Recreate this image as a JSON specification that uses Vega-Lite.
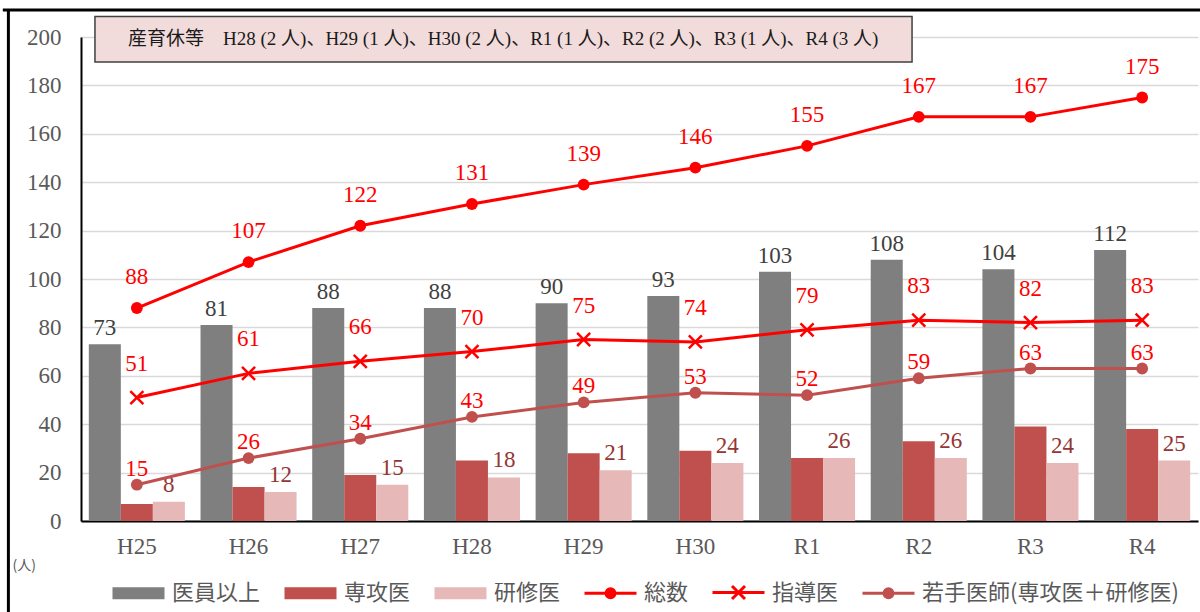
{
  "$schema": "https://vega.github.io/schema/vega-lite/v6.json",
  "width": 1117,
  "height": 484,
  "autosize": {"type": "none"},
  "padding": {"left": 81, "top": 37, "right": 2, "bottom": 91},
  "background": "#ffffff",
  "config": {
    "view": {"stroke": null},
    "font": "Liberation Serif, DejaVu Serif, serif"
  },
  "data": {"values": [
      {"year": "H25", "series": "医員以上", "value": 73},
      {"year": "H26", "series": "医員以上", "value": 81},
      {"year": "H27", "series": "医員以上", "value": 88},
      {"year": "H28", "series": "医員以上", "value": 88},
      {"year": "H29", "series": "医員以上", "value": 90},
      {"year": "H30", "series": "医員以上", "value": 93},
      {"year": "R1", "series": "医員以上", "value": 103},
      {"year": "R2", "series": "医員以上", "value": 108},
      {"year": "R3", "series": "医員以上", "value": 104},
      {"year": "R4", "series": "医員以上", "value": 112},
      {"year": "H25", "series": "専攻医", "value": 7},
      {"year": "H26", "series": "専攻医", "value": 14},
      {"year": "H27", "series": "専攻医", "value": 19},
      {"year": "H28", "series": "専攻医", "value": 25},
      {"year": "H29", "series": "専攻医", "value": 28},
      {"year": "H30", "series": "専攻医", "value": 29},
      {"year": "R1", "series": "専攻医", "value": 26},
      {"year": "R2", "series": "専攻医", "value": 33},
      {"year": "R3", "series": "専攻医", "value": 39},
      {"year": "R4", "series": "専攻医", "value": 38},
      {"year": "H25", "series": "研修医", "value": 8},
      {"year": "H26", "series": "研修医", "value": 12},
      {"year": "H27", "series": "研修医", "value": 15},
      {"year": "H28", "series": "研修医", "value": 18},
      {"year": "H29", "series": "研修医", "value": 21},
      {"year": "H30", "series": "研修医", "value": 24},
      {"year": "R1", "series": "研修医", "value": 26},
      {"year": "R2", "series": "研修医", "value": 26},
      {"year": "R3", "series": "研修医", "value": 24},
      {"year": "R4", "series": "研修医", "value": 25},
      {"year": "H25", "series": "総数", "value": 88},
      {"year": "H26", "series": "総数", "value": 107},
      {"year": "H27", "series": "総数", "value": 122},
      {"year": "H28", "series": "総数", "value": 131},
      {"year": "H29", "series": "総数", "value": 139},
      {"year": "H30", "series": "総数", "value": 146},
      {"year": "R1", "series": "総数", "value": 155},
      {"year": "R2", "series": "総数", "value": 167},
      {"year": "R3", "series": "総数", "value": 167},
      {"year": "R4", "series": "総数", "value": 175},
      {"year": "H25", "series": "指導医", "value": 51},
      {"year": "H26", "series": "指導医", "value": 61},
      {"year": "H27", "series": "指導医", "value": 66},
      {"year": "H28", "series": "指導医", "value": 70},
      {"year": "H29", "series": "指導医", "value": 75},
      {"year": "H30", "series": "指導医", "value": 74},
      {"year": "R1", "series": "指導医", "value": 79},
      {"year": "R2", "series": "指導医", "value": 83},
      {"year": "R3", "series": "指導医", "value": 82},
      {"year": "R4", "series": "指導医", "value": 83},
      {"year": "H25", "series": "若手医師(専攻医＋研修医)", "value": 15},
      {"year": "H26", "series": "若手医師(専攻医＋研修医)", "value": 26},
      {"year": "H27", "series": "若手医師(専攻医＋研修医)", "value": 34},
      {"year": "H28", "series": "若手医師(専攻医＋研修医)", "value": 43},
      {"year": "H29", "series": "若手医師(専攻医＋研修医)", "value": 49},
      {"year": "H30", "series": "若手医師(専攻医＋研修医)", "value": 53},
      {"year": "R1", "series": "若手医師(専攻医＋研修医)", "value": 52},
      {"year": "R2", "series": "若手医師(専攻医＋研修医)", "value": 59},
      {"year": "R3", "series": "若手医師(専攻医＋研修医)", "value": 63},
      {"year": "R4", "series": "若手医師(専攻医＋研修医)", "value": 63}
  ]},
  "resolve": {"scale": {"x": "independent"}},
  "layer": [
    {
      "encoding": {
        "x": {
          "field": "year", "type": "nominal",
          "scale": {"domain": ["H25", "H26", "H27", "H28", "H29", "H30", "R1", "R2", "R3", "R4"], "paddingInner": 0.14, "paddingOuter": 0.07},
          "axis": {"title": null, "labelAngle": 0, "labelFont": "Liberation Serif, DejaVu Serif, serif", "labelFontSize": 23, "labelColor": "#595959", "labelPadding": 14, "domainColor": "#000000", "domainWidth": 2, "ticks": false, "grid": false}
        },
        "y": {
          "field": "value", "type": "quantitative",
          "scale": {"domain": [0, 200], "nice": false},
          "axis": {
            "values": [0, 20, 40, 60, 80, 100, 120, 140, 160, 180, 200],
            "title": "(人)", "titleAngle": 0, "titleX": -69, "titleY": 528, "titleAlign": "left", "titleBaseline": "middle",
            "titleFont": "Noto Sans CJK JP", "titleFontSize": 14, "titleFontWeight": "normal", "titleColor": "#595959",
            "labelFont": "Liberation Serif, DejaVu Serif, serif", "labelFontSize": 23, "labelColor": "#595959", "labelPadding": 20,
            "ticks": false, "domainColor": "#000000", "domainWidth": 2, "gridColor": "#D9D9D9", "gridWidth": 1.5
          }
        }
      },
      "layer": [
        {
          "transform": [{"filter": {"field": "series", "oneOf": ["医員以上", "専攻医", "研修医"]}}],
          "mark": {"type": "bar"},
          "encoding": {
            "xOffset": {"field": "series", "type": "nominal", "scale": {"domain": ["医員以上", "専攻医", "研修医"], "paddingInner": 0, "paddingOuter": 0}},
            "fill": {"field": "series", "type": "nominal", "legend": null,
              "scale": {"domain": ["医員以上", "専攻医", "研修医", "総数", "若手医師(専攻医＋研修医)"], "range": ["#7F7F7F", "#C0504D", "#E6B9B8", "#FF0000", "#C0504D"]}}
          }
        },
        {
          "transform": [{"filter": {"field": "series", "equal": "医員以上"}}],
          "mark": {"type": "text", "font": "Liberation Serif, DejaVu Serif, serif", "fontSize": 23, "color": "#404040", "baseline": "alphabetic", "dy": -9},
          "encoding": {
            "xOffset": {"field": "series", "type": "nominal"},
            "text": {"field": "value", "type": "quantitative"}
          }
        },
        {
          "transform": [{"filter": {"field": "series", "equal": "研修医"}}],
          "mark": {"type": "text", "font": "Liberation Serif, DejaVu Serif, serif", "fontSize": 23, "color": "#943634", "baseline": "alphabetic", "dy": -10},
          "encoding": {
            "xOffset": {"field": "series", "type": "nominal"},
            "text": {"field": "value", "type": "quantitative"}
          }
        },
        {
          "transform": [{"filter": {"field": "series", "oneOf": ["総数", "指導医", "若手医師(専攻医＋研修医)"]}}],
          "mark": {"type": "line", "strokeWidth": 3},
          "encoding": {
            "stroke": {"field": "series", "type": "nominal", "legend": null,
              "scale": {"domain": ["総数", "指導医", "若手医師(専攻医＋研修医)"], "range": ["#FF0000", "#FF0000", "#C0504D"]}}
          }
        },
        {
          "transform": [{"filter": {"field": "series", "oneOf": ["総数", "若手医師(専攻医＋研修医)"]}}],
          "mark": {"type": "point", "shape": "circle", "filled": true, "size": 140, "opacity": 1},
          "encoding": {
            "fill": {"field": "series", "type": "nominal", "legend": null}
          }
        },
        {
          "transform": [{"filter": {"field": "series", "equal": "指導医"}}],
          "mark": {"type": "point", "shape": "M-1,-1L1,1M-1,1L1,-1", "filled": false, "size": 170, "strokeWidth": 2.5, "opacity": 1},
          "encoding": {
            "stroke": {"field": "series", "type": "nominal", "legend": null}
          }
        },
        {
          "transform": [{"filter": {"field": "series", "equal": "総数"}}],
          "mark": {"type": "text", "font": "Liberation Serif, DejaVu Serif, serif", "fontSize": 23, "color": "#FF0000", "baseline": "alphabetic", "dy": -24},
          "encoding": {"text": {"field": "value", "type": "quantitative"}}
        },
        {
          "transform": [{"filter": {"field": "series", "equal": "指導医"}}],
          "mark": {"type": "text", "font": "Liberation Serif, DejaVu Serif, serif", "fontSize": 23, "color": "#FF0000", "baseline": "alphabetic", "dy": -27},
          "encoding": {"text": {"field": "value", "type": "quantitative"}}
        },
        {
          "transform": [{"filter": {"field": "series", "equal": "若手医師(専攻医＋研修医)"}}],
          "mark": {"type": "text", "font": "Liberation Serif, DejaVu Serif, serif", "fontSize": 23, "color": "#FF0000", "baseline": "alphabetic", "dy": -9},
          "encoding": {"text": {"field": "value", "type": "quantitative"}}
        },
        {
          "transform": [{"filter": "datum.series == 'none'"}],
          "mark": {"type": "point", "filled": false, "strokeWidth": 3},
          "encoding": {
            "color": {"field": "series", "type": "nominal",
              "scale": {"domain": ["医員以上", "専攻医", "研修医", "総数", "指導医", "若手医師(専攻医＋研修医)"], "range": ["#7F7F7F", "#C0504D", "#E6B9B8", "#FF0000", "#FF0000", "#C0504D"]},
              "legend": {"title": null, "orient": "none", "legendX": 30, "legendY": 528, "direction": "horizontal", "symbolSize": 2704, "symbolStrokeWidth": 3, "symbolOpacity": 1, "labelFont": "Noto Sans CJK JP", "labelFontSize": 22, "labelColor": "#595959", "labelOffset": 6, "columnPadding": 17, "labelLimit": 400}},
            "shape": {"field": "series", "type": "nominal",
              "scale": {"domain": ["医員以上", "専攻医", "研修医", "総数", "指導医", "若手医師(専攻医＋研修医)"],
                "range": [
                  "M-1,-0.17H1M-1,-0.085H1M-1,0H1M-1,0.085H1M-1,0.17H1",
                  "M-1,-0.17H1M-1,-0.085H1M-1,0H1M-1,0.085H1M-1,0.17H1",
                  "M-1,-0.17H1M-1,-0.085H1M-1,0H1M-1,0.085H1M-1,0.17H1",
                  "M-1,0H1M-0.08,0A0.08,0.08 0 1,0 0.08,0A0.08,0.08 0 1,0 -0.08,0M-0.17,0A0.17,0.17 0 1,0 0.17,0A0.17,0.17 0 1,0 -0.17,0",
                  "M-1,0H1M-0.25,-0.25L0.25,0.25M-0.25,0.25L0.25,-0.25",
                  "M-1,0H1M-0.08,0A0.08,0.08 0 1,0 0.08,0A0.08,0.08 0 1,0 -0.08,0M-0.17,0A0.17,0.17 0 1,0 0.17,0A0.17,0.17 0 1,0 -0.17,0"
                ]},
              "legend": {"title": null, "orient": "none", "legendX": 30, "legendY": 528, "direction": "horizontal", "symbolSize": 2704, "symbolStrokeWidth": 3, "symbolOpacity": 1, "labelFont": "Noto Sans CJK JP", "labelFontSize": 22, "labelColor": "#595959", "labelOffset": 6, "columnPadding": 17, "labelLimit": 400}}
          }
        }
      ]
    },
    {
      "data": {"values": [{"note": "産育休等　H28 (2 人)、H29 (1 人)、H30 (2 人)、R1 (1 人)、R2 (2 人)、R3 (1 人)、R4 (3 人)"}]},
      "layer": [
        {
          "mark": {"type": "rule", "stroke": "#000000", "strokeWidth": 3},
          "encoding": {
            "x": {"datum": -0.65, "type": "quantitative", "scale": {"domain": [0, 10], "nice": false, "zero": false}, "axis": null},
            "y": {"datum": 211.5, "type": "quantitative"},
            "y2": {"datum": -40}
          }
        },
        {
          "mark": {"type": "rule", "stroke": "#000000", "strokeWidth": 3},
          "encoding": {
            "x": {"datum": -0.7, "type": "quantitative", "scale": {"domain": [0, 10], "nice": false, "zero": false}, "axis": null},
            "x2": {"datum": 10.2},
            "y": {"datum": 211.2, "type": "quantitative"}
          }
        },
        {
          "mark": {"type": "rect", "fill": "#F2DCDB", "stroke": "#404040", "strokeWidth": 1.5},
          "encoding": {
            "x": {"datum": 0.125, "type": "quantitative", "scale": {"domain": [0, 10], "nice": false, "zero": false}, "axis": null},
            "x2": {"datum": 7.44},
            "y": {"datum": 208.5, "type": "quantitative"},
            "y2": {"datum": 189.7}
          }
        },
        {
          "mark": {"type": "text", "font": "Liberation Serif, Noto Sans CJK JP", "fontSize": 19, "color": "#1a1a1a", "align": "center", "baseline": "middle"},
          "encoding": {
            "x": {"datum": 3.78, "type": "quantitative", "scale": {"domain": [0, 10], "nice": false, "zero": false}, "axis": null},
            "y": {"datum": 199.2, "type": "quantitative"},
            "text": {"field": "note", "type": "nominal"}
          }
        }
      ]
    }
  ]
}
